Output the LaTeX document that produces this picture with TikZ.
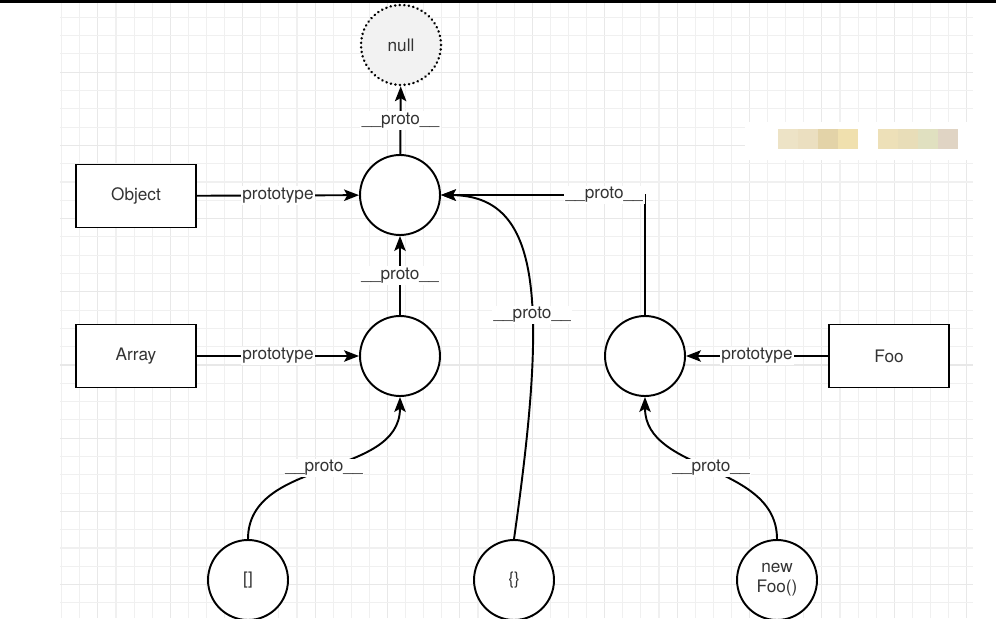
\documentclass[tikz,border=0pt]{standalone}
\usepackage{fontspec}
\setmainfont{TeX Gyre Heros}
\usetikzlibrary{arrows.meta}

\definecolor{gridline}{HTML}{F0F0F0}
\definecolor{gridmajor}{HTML}{E8E8E8}
\definecolor{txt}{HTML}{333333}
\definecolor{nullfill}{HTML}{F2F2F2}

\tikzset{>={Stealth[length=8.5pt,width=6.5pt,inset=1.8pt]}}
\tikzset{
  proto/.style={circle,draw,line width=1.1pt,fill=white,minimum size=1.6cm,inner sep=0pt,align=center},
  ctor/.style={rectangle,draw,line width=1.1pt,fill=white,minimum width=2.4cm,minimum height=1.26cm},
  lbl/.style={fill=white,inner sep=1pt},
  link/.style={->,line width=1.1pt}
}

\begin{document}
\begin{tikzpicture}[x=0.02cm,y=-0.02cm,
    every node/.style={text=txt,font=\fontsize{9.8}{11.5}\selectfont}]
  \clip (0,0) rectangle (996,618);
  % grid
  \foreach \i in {0,...,50} { \draw[gridline,line width=0.6pt] (61.7+18.1*\i,3) -- (61.7+18.1*\i,618); }
  \foreach \i in {2,6,...,50} { \draw[gridmajor,line width=0.6pt] (61.7+18.1*\i,3) -- (61.7+18.1*\i,618); }
  \foreach \k in {0,...,32} { \draw[gridline,line width=0.6pt] (60,17.3+18.3*\k) -- (973,17.3+18.3*\k); }
  \foreach \k in {3,7,...,31} { \draw[gridmajor,line width=0.6pt] (60,17.3+18.3*\k) -- (973,17.3+18.3*\k); }
  \fill[black] (0,0) rectangle (996,3);
  % blurred patch
  \fill[white] (745,122) rectangle (990,160);
  \foreach \X/\C in {778/EDE3C6,798/EBDFC0,818/E3D3A8,838/F0E0AE,878/EDE0B8,898/E8DDB8,918/E0E0C0,938/E0D4C4} {%
    \definecolor{patch}{HTML}{\C}
    \fill[patch] (\X,129) rectangle (\X+20,149);
  }

  % nodes
  \node[proto,fill=nullfill,line cap=round,dash pattern=on 0.1pt off 2.5pt,line width=1.5pt] (null) at (401,45) {null};
  \node[proto] (objp) at (400,195) {};
  \node[proto] (arrp) at (400,356) {};
  \node[proto] (foop) at (645,356) {};
  \node[ctor] (obj) at (136,196) {Object};
  \node[ctor] (arr) at (136,356) {Array};
  \node[ctor] (foo) at (889,356) {Foo};
  \node[proto] (arrinst) at (248,580) {[]};
  \node[proto] (objinst) at (514,580) {\{\}};
  \node[proto] (fooinst) at (777,580) {new\\Foo()};

  % links
  \draw[link] (objp) -- node[lbl] {\_\_proto\_\_} (null);
  \draw[link] (obj) -- node[lbl] {prototype} (objp);
  \draw[link] (arrp) -- node[lbl] {\_\_proto\_\_} (objp);
  \draw[link] (arr) -- node[lbl] {prototype} (arrp);
  \draw[link] (foo) -- node[lbl] {prototype} (foop);
  \draw[link] (foop.north) |- node[lbl,pos=0.6] {\_\_proto\_\_} (objp.east);
  \draw[link] (arrinst.north) to[out=90,in=-90] node[lbl] {\_\_proto\_\_} (arrp.south);
  \draw[link] (fooinst.north) to[out=90,in=-90] node[lbl] {\_\_proto\_\_} (foop.south);
  \draw[link] (objinst.north) .. controls (548,300) and (542,196) .. node[lbl,pos=0.4] {\_\_proto\_\_} (objp.east);
\end{tikzpicture}
\end{document}
